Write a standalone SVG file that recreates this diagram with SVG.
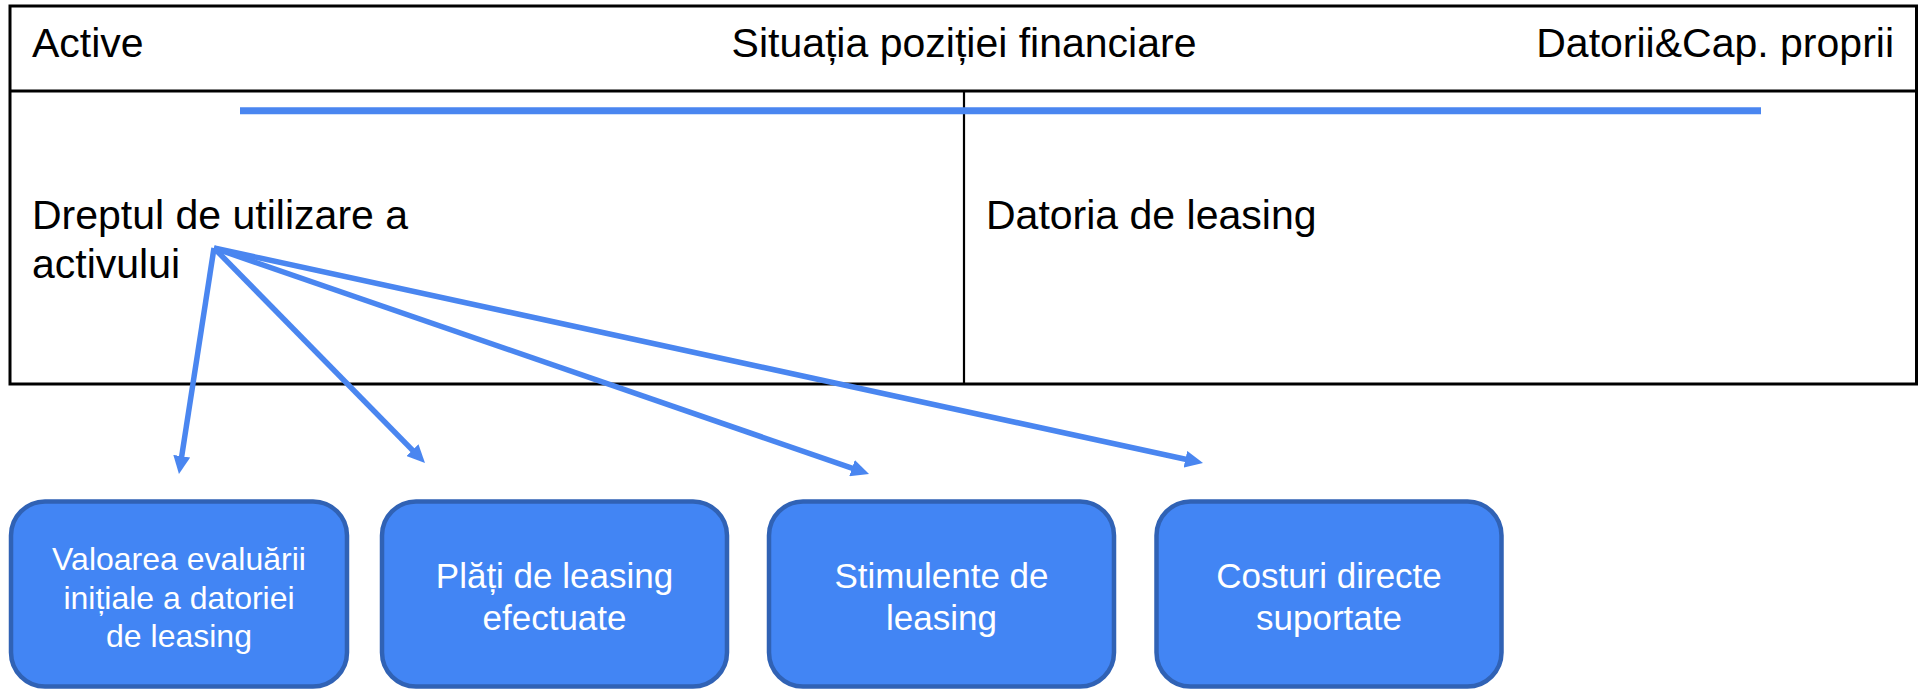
<svg xmlns="http://www.w3.org/2000/svg" width="1927" height="691" viewBox="0 0 1927 691">
  <style>
    .t { font-family: "Liberation Sans", Arial, sans-serif; font-size: 41px; fill: #000; }
    .bt { font-family: "Liberation Sans", Arial, sans-serif; font-size: 32px; fill: #fff; text-anchor: middle; }
    .bt2 { font-size: 35px; }
    .box { fill: #4285F4; stroke: #3062B5; stroke-width: 4.5; }
    .conn { stroke: #4A86F0; stroke-width: 5.5; fill: none; }
  </style>
  <defs>
    <marker id="arrow" markerUnits="userSpaceOnUse" markerWidth="18" markerHeight="17" refX="6" refY="8.5" orient="auto">
      <path d="M0,0 L18,8.5 L0,17 z" fill="#4A86F0"/>
    </marker>
  </defs>
  <rect width="1927" height="691" fill="#fff"/>

  <g id="table">
    <rect x="10" y="6" width="1906.5" height="378" fill="none" stroke="#000" stroke-width="3"/>
    <line x1="10" y1="91" x2="1916.5" y2="91" stroke="#000" stroke-width="3"/>
    <line x1="964" y1="91" x2="964" y2="384" stroke="#000" stroke-width="2.2"/>
    <line x1="240" y1="110.7" x2="1761" y2="110.7" stroke="#4A86F0" stroke-width="7"/>
    <text class="t" x="32" y="56.5">Active</text>
    <text class="t" x="964" y="56.5" text-anchor="middle">Situația poziției financiare</text>
    <text class="t" x="1894" y="56.5" text-anchor="end">Datorii&amp;Cap. proprii</text>
    <text class="t" x="32" y="228.5">Dreptul de utilizare a</text>
    <text class="t" x="32" y="277.5">activului</text>
    <text class="t" x="986" y="228.5">Datoria de leasing</text>
  </g>

  <g id="connectors">
    <line class="conn" x1="214" y1="248" x2="180.8" y2="462.1" marker-end="url(#arrow)"/>
    <line class="conn" x1="214" y1="248" x2="416.6" y2="454.4" marker-end="url(#arrow)"/>
    <line class="conn" x1="214" y1="248" x2="857.7" y2="470.1" marker-end="url(#arrow)"/>
    <line class="conn" x1="214" y1="248" x2="1191.3" y2="460.5" marker-end="url(#arrow)"/>
  </g>

  <g id="node-valoarea">
    <rect class="box" x="11" y="501.5" width="336" height="185" rx="34" ry="34"/>
    <text class="bt" x="179" y="570">Valoarea evaluării</text>
    <text class="bt" x="179" y="609">inițiale a datoriei</text>
    <text class="bt" x="179" y="647">de leasing</text>
  </g>

  <g id="node-plati">
    <rect class="box" x="382" y="501.5" width="345" height="185" rx="34" ry="34"/>
    <text class="bt bt2" x="554.5" y="588">Plăți de leasing</text>
    <text class="bt bt2" x="554.5" y="630">efectuate</text>
  </g>

  <g id="node-stimulente">
    <rect class="box" x="769" y="501.5" width="345" height="185" rx="34" ry="34"/>
    <text class="bt bt2" x="941.5" y="588">Stimulente de</text>
    <text class="bt bt2" x="941.5" y="630">leasing</text>
  </g>

  <g id="node-costuri">
    <rect class="box" x="1156.5" y="501.5" width="345" height="185" rx="34" ry="34"/>
    <text class="bt bt2" x="1329" y="588">Costuri directe</text>
    <text class="bt bt2" x="1329" y="630">suportate</text>
  </g>
</svg>
